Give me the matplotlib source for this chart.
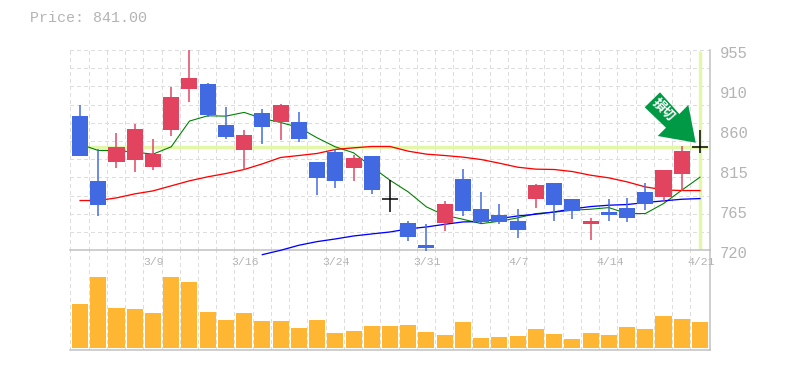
import numpy as np
import matplotlib
matplotlib.use('Agg')
import matplotlib.pyplot as plt
from matplotlib.patches import Polygon

open_ = [877.4, 801.1, 823.4, 825.8, 817.5, 861.0, 909.2, 915.1, 866.9, 837.5, 881.0, 870.4,
         870.4, 823.4, 835.2, 816.3, 830.4, 780.7, 751.7, 725.9, 751.7, 803.4, 768.2, 761.1,
         754.1, 779.9, 798.7, 779.9, 750.5, 764.6, 769.3, 788.1, 782.3, 809.3, 841.0]
close = [830.4, 772.9, 841.0, 862.2, 832.8, 899.8, 922.1, 878.6, 852.8, 855.1, 864.5, 890.4,
         850.4, 804.6, 801.1, 828.1, 790.5, 780.7, 735.3, 722.4, 774.0, 765.8, 752.9, 752.9,
         743.5, 796.4, 772.9, 765.8, 754.1, 761.1, 757.6, 774.0, 814.0, 836.3, 841.0]
high = [890.4, 838.7, 857.5, 868.1, 850.4, 911.5, 955.0, 916.2, 888.0, 861.0, 885.7, 891.5,
        882.1, 823.4, 838.7, 831.6, 830.4, 802.2, 754.1, 750.5, 777.6, 815.2, 788.2, 774.0,
        768.2, 797.5, 798.7, 779.9, 757.6, 779.9, 781.1, 798.7, 814.0, 842.2, 861.0]
low = [830.4, 759.9, 816.3, 811.6, 814.0, 854.0, 893.9, 876.3, 850.4, 814.0, 844.5, 849.3,
       846.9, 784.6, 792.9, 801.1, 785.8, 764.7, 730.6, 718.8, 742.3, 759.9, 751.7, 750.5,
       734.1, 769.3, 754.1, 756.4, 731.8, 754.1, 752.9, 767.0, 776.4, 789.3, 834.0]
volume = [132, 213, 120, 117, 105, 213, 198, 108, 84, 105, 81, 81, 60, 84, 45, 51, 66, 66,
          69, 48, 39, 78, 30, 33, 36, 57, 42, 27, 45, 39, 63, 57, 96, 87, 78]

ma_short = [844.5, 837.1, 837.1, 835.2, 832.8, 841.4, 871.6, 877.8, 877.4, 881.8, 874.7, 870.0,
            864.1, 852.0, 841.4, 834.4, 817.9, 802.2, 788.5, 770.9, 761.1, 756.4, 751.3, 754.1,
            758.0, 763.1, 764.7, 767.0, 768.2, 770.1, 763.1, 763.1, 774.8, 790.5, 805.8]
ma_mid = [778.4, 778.4, 781.5, 786.2, 789.7, 795.6, 801.5, 806.2, 810.1, 814.8, 821.4, 828.9,
          831.2, 833.6, 838.3, 840.2, 841.8, 841.8, 836.3, 832.8, 831.2, 829.3, 826.5, 822.2,
          817.5, 815.2, 814.8, 812.4, 808.1, 805.0, 800.3, 794.4, 790.9, 790.1, 790.1]
ma_long_start = 10
ma_long = [714.9, 720.0, 725.9, 730.2, 733.3, 736.8, 739.2, 741.5, 745.1, 747.4, 750.5, 753.3,
           753.7, 757.2, 760.3, 762.3, 765.0, 768.6, 771.3, 772.9, 773.7, 776.0, 778.0, 779.9, 780.7]

price_ticks = [955, 908, 861, 814, 767, 720]
price_labels = ['955', '910', '860', '815', '765', '720']
date_pos = [4, 9, 14, 19, 24, 29, 34]
date_labels = ['3/9', '3/16', '3/24', '3/31', '4/7', '4/14', '4/21']
last_price = 841.0

W, H = 785, 370
BLUE = '#4169e1'
RED = '#e2435f'
GRID = '#dddddd'
FRAME = '#c0c0c0'
TXT = '#b4b4b4'
BAND = '#e3f7a8'
MONO = 'Liberation Mono'
PX = 0.72

def box(l, t, r, b):
    return [l / W, 1 - b / H, (r - l) / W, (b - t) / H]

fig = plt.figure(figsize=(W / 100, H / 100), dpi=100)
vax = fig.add_axes(box(70, 250.3, 710, 350.3))
ax = fig.add_axes(box(70, 50, 710, 250.3), sharex=vax)
ax.patch.set_alpha(0)
vax.patch.set_alpha(0)

idx = np.arange(len(close))
xlim = (-0.55, 34.55)
grid_x = idx - 0.53
grid_y = np.linspace(720, 955, 12)
dash = (0, (3, 3))

for a in (ax, vax):
    a.set_xlim(xlim)
    a.set_xticks([])
    a.set_yticks([])
    for s in ('top', 'left'):
        a.spines[s].set_visible(False)
    for s in ('right', 'bottom'):
        a.spines[s].set_color(FRAME)
        a.spines[s].set_linewidth(1.5 * PX)
    a.vlines(grid_x, 0, 1, transform=a.get_xaxis_transform(), color=GRID,
             lw=1 * PX, ls=dash, zorder=1, antialiased=False)

ax.set_ylim(720, 955)
ax.hlines(grid_y[1:], xlim[0], xlim[1], color=GRID, lw=1 * PX, ls=dash, zorder=1, antialiased=False)

# current price cross hair band
ax.hlines(last_price, xlim[0], 34.42, color=BAND, lw=3.4 * PX, zorder=2)
ax.vlines(34, 721, 954, color=BAND, lw=3.4 * PX, zorder=2)

ax.plot(idx, ma_short, color='#008000', lw=1.1 * PX, zorder=3)
ax.plot(idx, ma_mid, color='#ff0000', lw=1.3 * PX, zorder=3)
ax.plot(idx[ma_long_start:], ma_long, color='#0000ff', lw=1.3 * PX, zorder=3, clip_on=False)

for i in idx:
    o, c = open_[i], close[i]
    if o == c:
        ax.vlines(i, low[i], high[i], color='black', lw=1.5 * PX, zorder=6)
        ax.hlines(c, i - 0.44, i + 0.44, color='black', lw=1.5 * PX, zorder=6)
        continue
    col = RED if c > o else BLUE
    ax.vlines(i, low[i], high[i], color=col, lw=1.5 * PX, zorder=4, clip_on=False)
    ax.bar(i, abs(c - o), bottom=min(o, c), width=0.88, color=col, lw=0, zorder=5)

vax.set_ylim(-7, 293)
vax.bar(idx, volume, width=0.88, color='#ffb733', lw=0, zorder=3)

for v, s in zip(price_ticks, price_labels):
    ax.annotate(s, xy=(1, v), xycoords=('axes fraction', 'data'), xytext=(10 * PX, -3 * PX),
                textcoords='offset points', color=TXT, fontsize=15.5 * PX, family=MONO,
                ha='left', va='center', annotation_clip=False)
for p, s in zip(date_pos, date_labels):
    ax.annotate(s, xy=(p, 0), xycoords=('data', 'axes fraction'), xytext=(1 * PX, -12 * PX),
                textcoords='offset points', color=TXT, fontsize=11.5 * PX, family=MONO,
                ha='center', va='center', annotation_clip=False, zorder=7)

fig.text(30 / W, 1 - 18 / H, 'Price: %.2f' % last_price, color=TXT, fontsize=15 * PX,
         family=MONO, ha='left', va='center')

# arrow sign, in picture pixels
over = fig.add_axes([0, 0, 1, 1])
over.set_xlim(0, W)
over.set_ylim(H, 0)
over.axis('off')
over.patch.set_alpha(0)
arrow = [(660, 92.3), (644.7, 107.3), (666, 127.7), (657.7, 136), (695.7, 142.7), (688.3, 105), (679.3, 114)]
over.add_patch(Polygon(arrow, closed=True, color='#009944', lw=0))
over.text(664, 110, '損切', color='white', fontsize=13 * PX, fontweight='bold', rotation=-45,
          rotation_mode='anchor', ha='center', va='center',
          family=['Noto Sans CJK JP', 'DejaVu Sans'])

fig.savefig('out.png', dpi=100)
